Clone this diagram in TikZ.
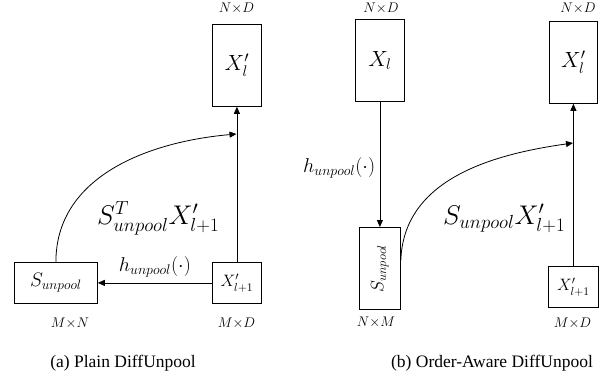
\RequirePackage{fix-cm}
\documentclass[tikz,border=0pt]{standalone}
\usepackage{amsmath}
\usepackage{fontspec}
\setmainfont{Liberation Serif}
\usetikzlibrary{positioning,arrows.meta,calc}

\begin{document}
\begin{tikzpicture}[x=1pt,y=-1pt,
  mat/.style={draw,line width=0.8pt,inner sep=0pt,anchor=north west},
  flow/.style={-{Triangle[length=7pt,width=6pt]},line width=0.8pt},
  dims/.style={font=\fontsize{14}{16}\selectfont,anchor=base,inner sep=1pt},
  fn/.style={font=\fontsize{20}{22}\selectfont,inner sep=0pt},
  prod/.style={font=\fontsize{27}{29}\selectfont,inner sep=0pt,anchor=base west},
  subcap/.style={font=\fontsize{17.5}{20}\selectfont,anchor=base}]
\useasboundingbox (0,0) rectangle (609,381);

\node[mat,minimum width=49pt,minimum height=82pt,font=\fontsize{22}{24}\selectfont] (xa) at (212,24) {$X'_l$};
\node[mat,minimum width=83pt,minimum height=41pt,font=\fontsize{19.5}{21}\selectfont] (sa) at (14,262) {$S_{unpool}$};
\node[mat,minimum width=49pt,minimum height=41pt,font=\fontsize{16.5}{18}\selectfont] (ya) at (212,262) {$X'_{l+1}$};
\node[dims] (da) at (236.5,12.5) {$N{\times}D$};
\node[dims] (db) at (70,327) {$M{\times}N$};
\node[dims] (dc) at (236.5,327) {$M{\times}D$};
\coordinate (ja) at (236.5,134);
\draw[flow] (ya) -- (xa);
\draw[flow] (ya) -- node[fn,above=5pt] {$h_{unpool}(\cdot)$} (sa);
\draw[flow] (sa.north) to[out=90,in=185] (ja);
\node[prod] (pa) at (97,224) {$S^{T}_{unpool}X'_{l+1}$};
\node[subcap] (ca) at (123,367) {(a) Plain DiffUnpool};

\node[mat,minimum width=49pt,minimum height=82pt,font=\fontsize{22}{24}\selectfont] (xb) at (355,19) {$X_l$};
\node[mat,minimum width=48pt,minimum height=82pt,font=\fontsize{22}{24}\selectfont] (xc) at (549,21) {$X'_l$};
\node[mat,minimum width=41pt,minimum height=82pt] (sb) at (359,227) {};
\node[rotate=90,font=\fontsize{18}{20}\selectfont,inner sep=0pt] (tb) at (sb.center) {$S_{unpool}$};
\node[mat,minimum width=50pt,minimum height=41pt,font=\fontsize{16.5}{18}\selectfont] (yb) at (548,266) {$X'_{l+1}$};
\node[dims] (dd) at (381,12.5) {$N{\times}D$};
\node[dims] (de) at (578,12.5) {$N{\times}D$};
\node[dims] (df) at (376,326) {$N{\times}M$};
\node[dims] (dg) at (572.5,327) {$M{\times}D$};
\coordinate (jb) at (573,143);
\draw[flow] (xb) -- (sb);
\node[fn,anchor=base west] (hb) at (303,172) {$h_{unpool}(\cdot)$};
\draw[flow] (yb) -- (xc);
\draw[flow] ([yshift=8pt]sb.east) to[out=88,in=188] (jb);
\node[prod] (pb) at (443,224) {$S_{unpool}X'_{l+1}$};
\node[subcap] (cb) at (492,367) {(b) Order-Aware DiffUnpool};
\end{tikzpicture}
\end{document}
